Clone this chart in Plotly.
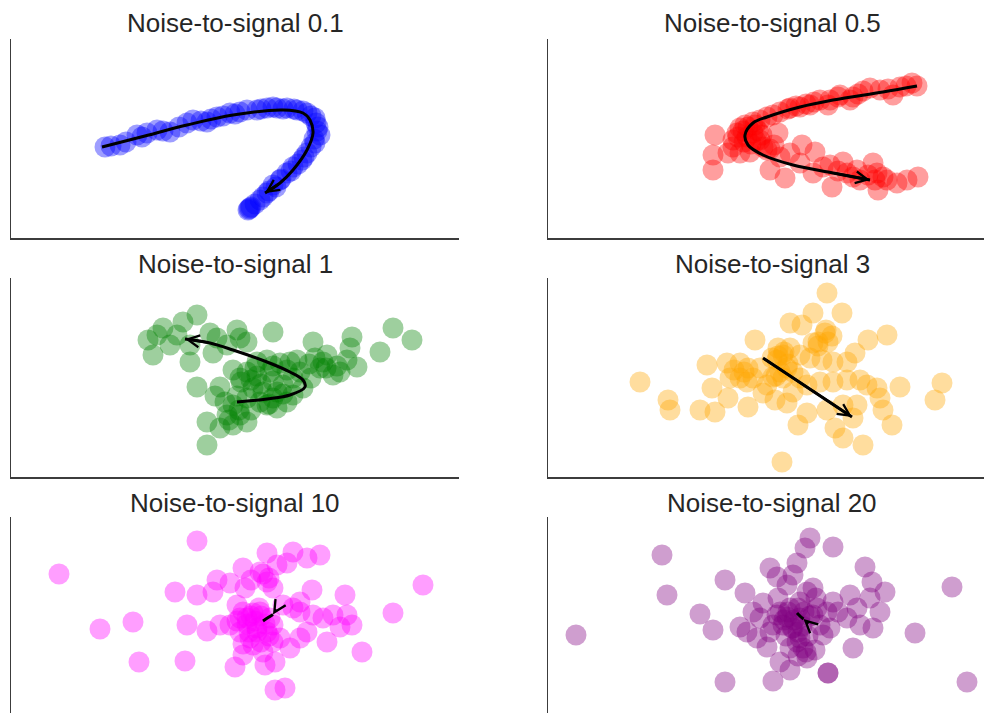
import plotly.graph_objects as go

W, H = 984, 713

titles = ["Noise-to-signal 0.1", "Noise-to-signal 0.5", "Noise-to-signal 1",
          "Noise-to-signal 3", "Noise-to-signal 10", "Noise-to-signal 20"]
colors = ["rgb(0,0,255)", "rgb(255,0,0)", "rgb(0,128,0)",
          "rgb(255,165,0)", "rgb(255,0,255)", "rgb(128,0,128)"]

# ---------------- data (arbitrary units) ----------------
x_ns01 = [94, 109, 126, 136, 146, 159, 176, 182, 196, 206, 219, 229, 236, 246, 256, 266, 276, 286, 296, 304,
          307, 309, 304, 296, 291, 282, 276, 269, 262, 256, 249, 239, 237,
          250, 262, 272, 283, 292, 300, 305, 306, 303, 300, 293, 287, 280, 270, 265, 258, 252, 244, 240, 238,
          100, 115, 131, 152, 168, 190, 200, 212, 224]
y_ns01 = [90, 92, 102, 104, 107, 105, 114, 117, 115, 120, 124, 125, 127, 127, 129, 129, 129, 127, 124, 119,
          110, 102, 94, 84, 77, 70, 64, 57, 52, 44, 37, 29, 27,
          128, 130, 128, 128, 126, 121, 114, 106, 98, 90, 80, 73, 66, 58, 50, 46, 40, 33, 30, 28,
          91, 95, 100, 106, 110, 116, 118, 121, 123]

x_ns05 = [369, 364, 352, 345, 332, 322, 305, 302, 292, 282, 280, 272, 262, 252, 242, 232, 225, 219, 212, 205, 197, 192, 189,
          167, 185, 199, 205, 212, 230, 185, 192, 202, 219, 232, 242, 254, 267, 165, 165, 180, 222, 237, 252,
          265, 282, 284, 295, 299, 309, 312, 325, 329, 330, 339, 349, 359, 370,
          195, 200, 207, 210, 214, 208, 203, 190, 196, 215, 222, 226, 240, 248, 258, 266, 290, 310, 315, 340, 358,
          320, 327, 335, 305, 290, 275]
y_ns05 = [151, 154, 150, 142, 147, 149, 140, 137, 142, 137, 132, 137, 132, 130, 129, 125, 122, 120, 117, 115, 112, 109, 104,
          102, 97, 100, 104, 97, 104, 90, 84, 85, 87, 80, 84, 92, 85, 82, 67, 84, 67, 59, 74,
          64, 72, 50, 75, 64, 67, 57, 74, 64, 47, 57, 54, 57, 60,
          106, 110, 112, 106, 102, 96, 93, 100, 95, 90, 88, 92, 128, 131, 133, 135, 140, 143, 146, 148, 151,
          62, 57, 60, 60, 66, 70]

x_ns1 = [186, 172, 152, 137, 142, 146, 159, 166, 179, 179, 199, 206, 202, 226, 229, 236, 216, 262, 186, 209,
         222, 229, 236, 246, 256, 259, 269, 279, 282, 289, 302, 304, 309, 316, 322, 329, 336, 339, 341, 346,
         369, 382, 401, 242, 252, 262, 272, 282, 292, 256, 266, 249, 222, 229, 236, 216, 209, 196, 196, 222,
         236, 276,
         230, 240, 246, 250, 262, 266, 272, 258, 240, 228, 226, 214, 218, 244, 262, 276, 298, 312, 326, 300,
         315, 286, 204]
y_ns1 = [161, 154, 148, 136, 121, 141, 131, 141, 131, 114, 143, 138, 123, 146, 138, 134, 131, 144, 89, 89,
         106, 98, 104, 114, 116, 104, 113, 114, 98, 104, 134, 118, 108, 121, 101, 104, 116, 128, 139, 109,
         124, 148, 136, 88, 84, 78, 91, 81, 88, 71, 68, 74, 71, 61, 54, 61, 48, 54, 31, 51,
         78, 74,
         94, 96, 100, 92, 95, 84, 82, 72, 66, 66, 80, 74, 56, 108, 110, 106, 112, 114, 110, 98,
         108, 116, 80]

x_ns3 = [279, 294, 265, 242, 254, 207, 277, 270, 265, 280, 320, 339, 230, 242, 229, 235, 252, 262, 274, 285,
         299, 307, 159, 179, 192, 200, 212, 205, 199, 192, 182, 239, 245, 252, 235, 259, 272, 285, 299, 312,
         319, 329, 352, 394, 387, 92, 120, 122, 152, 167, 164, 180, 200, 215, 227, 239, 245, 259, 250, 279,
         295, 309, 332, 335, 344, 287, 295, 315, 234, 305, 225, 219,
         230, 236, 224, 240, 284, 278, 270, 232, 228, 196, 186]
y_ns3 = [183, 163, 163, 153, 151, 136, 143, 134, 133, 134, 136, 141, 128, 128, 116, 121, 121, 118, 116, 114,
         114, 123, 111, 113, 113, 108, 108, 98, 94, 98, 98, 108, 104, 98, 98, 91, 94, 94, 96, 96,
         91, 88, 89, 93, 76, 94, 76, 66, 66, 64, 88, 78, 69, 83, 76, 73, 84, 63, 51, 66,
         71, 71, 78, 66, 51, 48, 38, 31, 14, 58, 99, 91,
         120, 124, 118, 112, 140, 146, 130, 104, 100, 104, 106]

x_ns10 = [48, 186, 89, 122, 128, 164, 174, 176, 186, 196, 206, 202, 209, 219, 219, 226, 232, 234, 242, 229,
          249, 256, 256, 262, 266, 276, 282, 296, 309, 272, 282, 289, 289, 301, 302, 312, 322, 336, 329, 341,
          334, 316, 296, 289, 279, 351, 382, 412, 236, 246, 256, 262, 242, 232, 252, 262, 269, 224, 254, 264,
          264, 274, 229, 249, 259, 239,
          240, 244, 250, 236, 248, 232, 246, 254, 258, 238, 226, 250, 232, 258, 252, 240]
y_ns10 = [142, 175, 87, 94, 54, 124, 55, 91, 121, 85, 136, 124, 91, 133, 91, 111, 148, 128, 103, 84,
          144, 163, 134, 128, 151, 153, 164, 158, 161, 111, 108, 104, 114, 126, 101, 98, 101, 101, 89, 91,
          121, 74, 84, 78, 68, 64, 103, 131, 98, 88, 84, 91, 71, 61, 64, 74, 78, 49, 51, 54,
          26, 28, 98, 104, 98, 78,
          100, 95, 100, 92, 108, 104, 84, 92, 80, 84, 95, 74, 72, 138, 142, 136]

x_ns20 = [28, 114, 119, 152, 165, 177, 197, 177, 225, 192, 199, 209, 219, 205, 215, 222, 229, 239, 249, 245,
          257, 262, 285, 229, 239, 242, 252, 259, 265, 225, 235, 245, 252, 265, 272, 279, 285, 282, 275, 302,
          299, 309, 312, 305, 325, 332, 317, 324, 337, 322, 290, 249, 255, 267, 242, 259, 232, 242, 280, 280,
          367, 404, 419, 252, 212, 222, 269,
          232, 240, 246, 236, 250, 256, 262, 244, 250, 238, 260, 254, 230, 268, 258, 250]
y_ns20 = [81, 161, 121, 102, 86, 136, 123, 34, 35, 89, 84, 78, 69, 104, 113, 148, 139, 131, 153, 141,
          168, 178, 169, 101, 99, 108, 114, 124, 128, 91, 91, 88, 98, 101, 91, 104, 114, 88, 81, 121,
          98, 108, 91, 68, 88, 104, 149, 134, 124, 118, 104, 74, 68, 66, 68, 58, 54, 46, 43, 43,
          83, 129, 34, 78, 98, 84, 108,
          104, 104, 96, 96, 108, 104, 100, 88, 84, 80, 80, 90, 118, 118, 64, 60]

# principal curves (black arrows); last point = arrow tip, previous = arrow tail direction
cx_ns01 = [91, 130, 176, 222, 272, 292, 299, 302, 296, 282, 269, 254]
cy_ns01 = [90, 100, 112, 122, 127, 124, 117, 104, 87, 67, 54, 44]
cx_ns05 = [369, 335, 285, 252, 219, 205, 197, 200, 215, 245, 285, 322]
cy_ns05 = [151, 145, 137, 130, 120, 114, 102, 92, 82, 72, 64, 57]
cx_ns1 = [226, 256, 279, 294, 292, 279, 256, 222, 199, 174]
cy_ns1 = [74, 77, 81, 89, 96, 104, 114, 126, 133, 137]
cx_ns3 = [215, 304]
cy_ns3 = [118, 59]
cx_ns10 = [252, 258, 262]
cy_ns10 = [95, 99, 101.5]
cx_ns20 = [249, 253, 255.5]
cy_ns20 = [103, 99, 97]
# direction the tiny arrows point to (tail of the head), same units
tail_ns10 = (266, 108)
tail_ns20 = (262, 91)

points = [(x_ns01, y_ns01), (x_ns05, y_ns05), (x_ns1, y_ns1),
          (x_ns3, y_ns3), (x_ns10, y_ns10), (x_ns20, y_ns20)]
curves = [(cx_ns01, cy_ns01), (cx_ns05, cy_ns05), (cx_ns1, cy_ns1),
          (cx_ns3, cy_ns3), (cx_ns10, cy_ns10), (cx_ns20, cy_ns20)]
tails = [None, None, None, None, tail_ns10, tail_ns20]

# ---------------- layout geometry (pixels) ----------------
cols = [(11, 459), (548, 996)]
rows = [(39, 238, 237), (278, 477, 476), (517, 716, 716)]  # top, bottom, zero line
title_y = [23, 264, 503]

fig = go.Figure()
layout = dict(width=W, height=H, margin=dict(l=0, r=0, t=0, b=0),
              plot_bgcolor="white", paper_bgcolor="white", showlegend=False,
              annotations=[])

axis_color = "#3c3c3c"
for i in range(6):
    r, c = divmod(i, 2)
    L, R = cols[c]
    top, bot, y0 = rows[r]
    Rv = min(R, W)
    bv = min(bot, H)
    xn = "x" if i == 0 else f"x{i+1}"
    yn = "y" if i == 0 else f"y{i+1}"
    xk = "xaxis" if i == 0 else f"xaxis{i+1}"
    yk = "yaxis" if i == 0 else f"yaxis{i+1}"
    layout[xk] = dict(domain=[L / W, Rv / W], range=[0, Rv - L], anchor=yn,
                      showline=(bot <= H), linecolor=axis_color, linewidth=1.5,
                      showgrid=False, zeroline=False, showticklabels=False, ticks="",
                      fixedrange=True)
    layout[yk] = dict(domain=[1 - bv / H, 1 - top / H], range=[y0 - bv, y0 - top], anchor=xn,
                      showline=True, linecolor=axis_color, linewidth=1.5,
                      showgrid=False, zeroline=False, showticklabels=False, ticks="",
                      fixedrange=True)
    px, py = points[i]
    fig.add_trace(go.Scatter(x=px, y=py, mode="markers", xaxis=xn, yaxis=yn,
                             marker=dict(size=21, color=colors[i], opacity=0.38,
                                         line=dict(width=0)),
                             hoverinfo="skip"))
    cx, cy = curves[i]
    fig.add_trace(go.Scatter(x=cx, y=cy, mode="lines", xaxis=xn, yaxis=yn,
                             line=dict(color="black", width=3, shape="spline"),
                             hoverinfo="skip"))
    tx, ty = tails[i] if tails[i] is not None else (cx[-2], cy[-2])
    layout["annotations"].append(dict(
        x=cx[-1], y=cy[-1], ax=tx, ay=ty, xref=xn, yref=yn, axref=xn, ayref=yn,
        showarrow=True, arrowhead=5, arrowsize=0.9, arrowwidth=2.6, arrowcolor="black", text=""))
    layout["annotations"].append(dict(
        x=(L + R) / 2 / W, y=1 - title_y[r] / H, xref="paper", yref="paper",
        text=titles[i], showarrow=False, xanchor="center", yanchor="middle",
        font=dict(family="Liberation Sans, Arial, sans-serif", size=26, color="#262626")))

fig.update_layout(**layout)
fig.write_html("out.html", config={"displayModeBar": False, "staticPlot": True},
               post_script="document.body.style.margin='0';document.body.style.overflow='hidden';")
